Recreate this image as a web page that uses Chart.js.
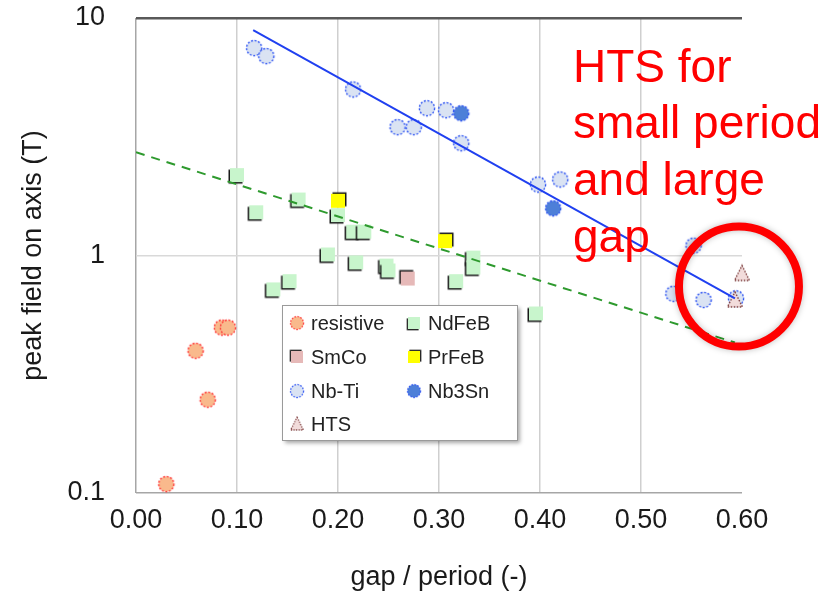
<!DOCTYPE html>
<html><head><meta charset="utf-8">
<script src="https://cdn.jsdelivr.net/npm/chart.js@4/dist/chart.umd.min.js"></script>
<style>html,body{margin:0;padding:0;background:#fff;}#c{display:block;}</style>
</head><body>
<canvas id="c" width="832" height="600"></canvas>
<script>
// ---------- data ----------
const xTicks = [0, 0.1, 0.2, 0.3, 0.4, 0.5, 0.6];
const xTickLabels = ['0.00','0.10','0.20','0.30','0.40','0.50','0.60'];
const yTicks = [0.1, 1, 10];
const yTickLabels = ['0.1','1','10'];

const resistiveX = [0.030, 0.059, 0.071, 0.085, 0.091];
const resistiveY = [0.109, 0.397, 0.247, 0.497, 0.497];

const ndfebX = [0.100, 0.119, 0.161, 0.200, 0.215, 0.226, 0.190, 0.218, 0.248, 0.250, 0.136, 0.152, 0.317, 0.334, 0.334, 0.396];
const ndfebY = [2.18, 1.52, 1.72, 1.48, 1.26, 1.26, 1.01, 0.935, 0.907, 0.865, 0.72, 0.78, 0.78, 0.98, 0.89, 0.57];

const smcoX = [0.269];
const smcoY = [0.80];

const prfebX = [0.200, 0.306];
const prfebY = [1.70, 1.15];

const nbtiX = [0.117, 0.129, 0.215, 0.259, 0.275, 0.288, 0.307, 0.322, 0.398, 0.420, 0.552, 0.532, 0.562, 0.594];
const nbtiY = [7.47, 6.91, 5.0, 3.47, 3.47, 4.17, 4.09, 2.97, 1.99, 2.09, 1.10, 0.69, 0.65, 0.66];

const nb3snX = [0.322, 0.413];
const nb3snY = [3.97, 1.58];

const htsX = [0.600, 0.593];
const htsY = [0.84, 0.65];

const nbtiFitX = [0.116, 0.593];
const nbtiFitY = [8.9, 0.66];
const ndfebFitX = [0.0, 0.593];
const ndfebFitY = [2.72, 0.43];

const noteLines = ['HTS for', 'small period', 'and large', 'gap'];

// ---------- markers ----------
function circleMarker(fill, stroke) {
  const c = document.createElement('canvas'); c.width = 20; c.height = 20;
  const g = c.getContext('2d');
  g.beginPath(); g.arc(10, 10, 7.6, 0, Math.PI * 2);
  g.fillStyle = fill; g.fill();
  g.setLineDash([2, 1.6]); g.lineWidth = 1.4; g.strokeStyle = stroke; g.stroke();
  return c;
}
function squareMarker(fill, dx, dy) {
  const c = document.createElement('canvas'); c.width = 20; c.height = 20;
  const g = c.getContext('2d');
  g.fillStyle = '#1a1a1a'; g.fillRect(3 + dx, 3 + dy, 14, 14);
  g.fillStyle = fill; g.fillRect(3, 3, 14, 14);
  return c;
}
function triMarker(fill, stroke) {
  const c = document.createElement('canvas'); c.width = 20; c.height = 20;
  const g = c.getContext('2d');
  g.beginPath(); g.moveTo(10, 2); g.lineTo(17.5, 17); g.lineTo(2.5, 17); g.closePath();
  g.fillStyle = fill; g.fill();
  g.setLineDash([1.5, 1.5]); g.lineWidth = 1.4; g.strokeStyle = stroke; g.stroke();
  return c;
}
const mkResistive = circleMarker('#f9b98c', '#ff3a3a');
const mkNdfeb = squareMarker('#c8f5cc', -1.5, 1.5);
const mkSmco = squareMarker('#e6b9b8', -1.5, -1.5);
const mkPrfeb = squareMarker('#ffff00', 1.5, -1.5);
const mkNbti = circleMarker('#dae3f3', '#2f55f2');
const mkNb3sn = circleMarker('#4d7fd8', '#2f55f2');
const mkHts = triMarker('#f2dcdb', '#7b3b3b');

function pts(xs, ys) { return xs.map((x, i) => ({ x: x, y: ys[i] })); }
function scatterSet(label, xs, ys, img, order) {
  return { label, data: pts(xs, ys), pointStyle: img, pointRadius: 8, pointHoverRadius: 8,
           showLine: false, order, clip: false, legendImg: img };
}
function lineSet(label, xs, ys, color, dash) {
  return { label, data: pts(xs, ys), showLine: true, borderColor: color, borderWidth: 2,
           borderDash: dash, pointRadius: 0, pointHoverRadius: 0, fill: false, order: 0, isFit: true };
}

const datasets = [
  lineSet('Nb-Ti fit', nbtiFitX, nbtiFitY, '#2040f0', []),
  lineSet('NdFeB fit', ndfebFitX, ndfebFitY, '#2e9a2e', [9, 7]),
  scatterSet('resistive', resistiveX, resistiveY, mkResistive, 1),
  scatterSet('NdFeB', ndfebX, ndfebY, mkNdfeb, 1),
  scatterSet('SmCo', smcoX, smcoY, mkSmco, 1),
  scatterSet('PrFeB', prfebX, prfebY, mkPrfeb, 1),
  scatterSet('Nb-Ti', nbtiX, nbtiY, mkNbti, 2),
  scatterSet('Nb3Sn', nb3snX, nb3snY, mkNb3sn, 1),
  scatterSet('HTS', htsX, htsY, mkHts, 1)
];

const FONT = 'Liberation Sans, Arial, sans-serif';

const boxLegend = {
  id: 'boxLegend',
  afterDatasetsDraw(chart) {
    const ctx = chart.ctx;
    const L = 282, T = 305, W = 235, H = 135;
    ctx.save();
    ctx.shadowColor = 'rgba(0,0,0,0.35)'; ctx.shadowOffsetX = 3; ctx.shadowOffsetY = 3; ctx.shadowBlur = 4;
    ctx.fillStyle = '#fff'; ctx.fillRect(L, T, W, H);
    ctx.shadowColor = 'transparent'; ctx.shadowBlur = 0; ctx.shadowOffsetX = 0; ctx.shadowOffsetY = 0;
    ctx.strokeStyle = '#9a9a9a'; ctx.lineWidth = 1; ctx.strokeRect(L + 0.5, T + 0.5, W, H);
    const items = chart.data.datasets.filter(d => !d.isFit);
    const colM = [297, 414], colT = [311, 428], rows = [323, 357, 391, 424];
    ctx.font = '20px ' + FONT; ctx.fillStyle = '#222'; ctx.textBaseline = 'middle'; ctx.textAlign = 'left';
    items.forEach((d, i) => {
      const c = i % 2, r = Math.floor(i / 2);
      const img = d.legendImg, s = 0.85;
      ctx.drawImage(img, colM[c] - img.width * s / 2, rows[r] - img.height * s / 2, img.width * s, img.height * s);
      ctx.fillText(d.label, colT[c], rows[r] + 1);
    });
    ctx.restore();
  }
};

const note = {
  id: 'note',
  afterDraw(chart) {
    const ctx = chart.ctx;
    const xs = chart.scales.x, ys = chart.scales.y;
    ctx.save();
    ctx.fillStyle = '#ff0000';
    ctx.font = '46px ' + FONT; ctx.textBaseline = 'alphabetic'; ctx.textAlign = 'left';
    const base = [82, 138, 195, 252];
    noteLines.forEach((t, i) => ctx.fillText(t, 573, base[i]));
    const cx = xs.getPixelForValue(0.597), cy = ys.getPixelForValue(0.74);
    ctx.shadowColor = 'rgba(0,0,0,0.25)'; ctx.shadowBlur = 6;
    ctx.beginPath(); ctx.arc(cx, cy, 60, 0, Math.PI * 2);
    ctx.strokeStyle = '#ff0000'; ctx.lineWidth = 8; ctx.stroke();
    ctx.restore();
  }
};

new Chart(document.getElementById('c'), {
  type: 'scatter',
  data: { datasets },
  options: {
    responsive: false, animation: false, devicePixelRatio: 1,
    layout: { padding: { left: 0, right: 90, top: 18, bottom: 0 } },
    plugins: { legend: { display: false }, tooltip: { enabled: false } },
    scales: {
      x: {
        type: 'linear', min: 0, max: 0.6,
        afterBuildTicks: s => { s.ticks = xTicks.map(v => ({ value: v })); },
        afterFit: s => { s.height = 107; s.paddingLeft = 0; s.paddingRight = 0; },
        ticks: { callback: (v, i) => xTickLabels[i], font: { family: FONT, size: 27 }, color: '#1a1a1a',
                 padding: 11, maxRotation: 0, autoSkip: false },
        grid: {
          drawTicks: false,
          color: c => { const v = c.tick ? c.tick.value : null; if (v === 0) return '#a6a6a6'; if (v === 0.6) return 'rgba(0,0,0,0)'; return '#cfcfcf'; },
          lineWidth: 1.5
        },
        border: { display: false },
        title: { display: true, text: 'gap / period (-)', font: { family: FONT, size: 27 }, color: '#1a1a1a',
                 padding: { top: 0, bottom: 6 } }
      },
      y: {
        type: 'logarithmic', min: 0.1, max: 10,
        afterBuildTicks: s => { s.ticks = yTicks.map(v => ({ value: v })); },
        afterFit: s => { s.width = 136; s.paddingTop = 0; s.paddingBottom = 0; },
        ticks: { callback: (v, i) => yTickLabels[i], font: { family: FONT, size: 27 }, color: '#1a1a1a',
                 padding: 31, autoSkip: false },
        grid: {
          drawTicks: false,
          color: c => { const v = c.tick ? c.tick.value : null; if (v === 10) return '#595959'; if (v === 0.1) return '#a6a6a6'; return '#d9d9d9'; },
          lineWidth: c => (c.tick && c.tick.value === 10 ? 2.5 : 1.5)
        },
        border: { display: false },
        title: { display: true, text: 'peak field on axis (T)', font: { family: FONT, size: 27 }, color: '#1a1a1a',
                 padding: { top: 17, bottom: 0 } }
      }
    }
  },
  plugins: [boxLegend, note]
});
</script>
</body></html>
